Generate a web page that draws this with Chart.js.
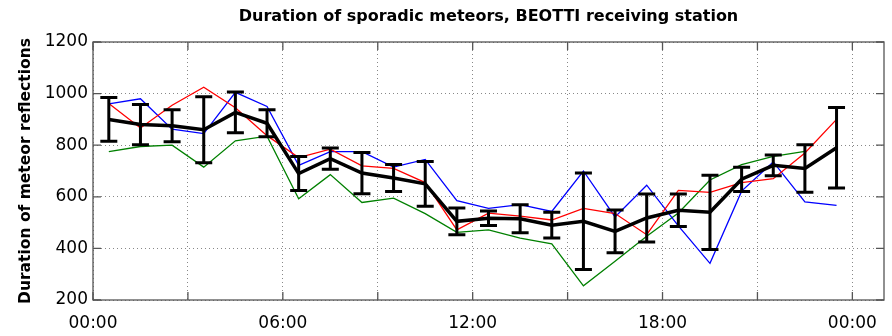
<!DOCTYPE html>
<html>
<head>
<meta charset="utf-8">
<title>Sporadic meteors</title>
<script src="https://cdn.jsdelivr.net/npm/chart.js@4"></script>
<style>
  html, body { margin: 0; padding: 0; background: #fff; }
  #wrap { width: 892px; height: 336px; }
</style>
</head>
<body>
<div id="wrap"><canvas id="meteorChart" width="892" height="336"></canvas></div>
<script>
// Hour of day (bin centres)
const hours = [0.5, 1.5, 2.5, 3.5, 4.5, 5.5, 6.5, 7.5, 8.5, 9.5, 10.5, 11.5,
  12.5, 13.5, 14.5, 15.5, 16.5, 17.5, 18.5, 19.5, 20.5, 21.5, 22.5, 23.5];

// Mean duration with its spread
const meanDuration = [900, 880, 875, 860, 927, 885, 690, 748, 692, 673, 650, 505,
  517, 515, 490, 505, 466, 518, 548, 540, 668, 722, 710, 790];
const meanError = [85, 78, 62, 128, 79, 52, 66, 41, 80, 52, 87, 52,
  28, 54, 50, 187, 83, 93, 63, 144, 47, 40, 92, 156];

// Individual days
const redSeries = [962, 867, 955, 1025, 945, 837, 752, 785, 720, 710, 655, 472,
  537, 525, 510, 555, 535, 453, 625, 617, 655, 670, 770, 900];
const blueSeries = [960, 980, 862, 845, 1005, 950, 722, 775, 775, 715, 745, 585,
  555, 570, 543, 700, 522, 645, 487, 342, 622, 735, 580, 567];
const greenSeries = [775, 795, 800, 715, 817, 835, 592, 686, 578, 595, 535, 462,
  472, 440, 418, 255, 350, 447, 537, 665, 725, 757, 776, null];

// Axis ticks
const tickHours = [0, 3, 6, 9, 12, 15, 18, 21, 24];
const tickLabels = ["00:00", "", "06:00", "", "12:00", "", "18:00", "", "00:00"];

const chartTitle = "Duration of sporadic meteors, BEOTTI receiving station";

const toPoints = (arr) => arr.map((v, i) => ({ x: hours[i], y: v }));

Chart.defaults.font.family = "'DejaVu Sans', 'Liberation Sans', Arial, sans-serif";
Chart.defaults.color = "#000";

// frame, inward tick marks, error bars and the title over the plot box
const framePlugin = {
  id: "frame",
  afterDatasetsDraw(chart) {
    const { ctx, chartArea: a, scales } = chart;
    ctx.save();

    // error bars on the mean
    ctx.strokeStyle = "#000";
    ctx.lineWidth = 3;
    const cap = 8.5;
    meanDuration.forEach((m, i) => {
      const x = scales.x.getPixelForValue(hours[i]);
      const yTop = scales.y.getPixelForValue(m + meanError[i]);
      const yBot = scales.y.getPixelForValue(m - meanError[i]);
      ctx.beginPath();
      ctx.moveTo(x, yTop); ctx.lineTo(x, yBot);
      ctx.moveTo(x - cap, yTop); ctx.lineTo(x + cap, yTop);
      ctx.moveTo(x - cap, yBot); ctx.lineTo(x + cap, yBot);
      ctx.stroke();
    });

    // box
    ctx.strokeStyle = "#555";
    ctx.lineWidth = 1.3;
    ctx.strokeRect(a.left, a.top, a.right - a.left, a.bottom - a.top);

    // inward ticks
    const len = 8;
    ctx.beginPath();
    scales.x.ticks.forEach((t) => {
      const x = scales.x.getPixelForValue(t.value);
      ctx.moveTo(x, a.bottom); ctx.lineTo(x, a.bottom - len);
      ctx.moveTo(x, a.top); ctx.lineTo(x, a.top + len);
    });
    scales.y.ticks.forEach((t) => {
      const y = scales.y.getPixelForValue(t.value);
      ctx.moveTo(a.left, y); ctx.lineTo(a.left + len, y);
      ctx.moveTo(a.right, y); ctx.lineTo(a.right - len, y);
    });
    ctx.stroke();

    // title
    ctx.fillStyle = "#000";
    ctx.font = "bold 16px 'DejaVu Sans', 'Liberation Sans', Arial, sans-serif";
    ctx.textAlign = "center";
    ctx.textBaseline = "middle";
    ctx.fillText(chartTitle, (a.left + a.right) / 2, 17);
    ctx.restore();
  },
};

const lineSet = (data, color, width) => ({
  data: toPoints(data),
  borderColor: color,
  backgroundColor: color,
  borderWidth: width,
  pointRadius: 0,
  tension: 0,
  fill: false,
});

new Chart(document.getElementById("meteorChart"), {
  type: "line",
  data: {
    datasets: [
      lineSet(meanDuration, "#000000", 3.5),
      lineSet(redSeries, "#ff0000", 1.3),
      lineSet(blueSeries, "#0000ff", 1.3),
      lineSet(greenSeries, "#008000", 1.3),
    ],
  },
  options: {
    responsive: false,
    animation: false,
    layout: { padding: { left: 0, right: 8, top: 42, bottom: 0 } },
    plugins: {
      legend: { display: false },
      tooltip: { enabled: false },
    },
    scales: {
      x: {
        type: "linear",
        min: 0,
        max: 25,
        afterBuildTicks: (axis) => {
          axis.ticks = tickHours.map((v) => ({ value: v }));
        },
        afterFit: (scale) => { scale.height = 36; },
        ticks: {
          autoSkip: false,
          maxRotation: 0,
          padding: 13,
          font: { size: 17 },
          callback: (value, index) => tickLabels[index],
        },
        grid: { color: "#888", lineWidth: 1, drawTicks: false },
        border: { display: false, dash: [1, 3] },
      },
      y: {
        min: 200,
        max: 1200,
        afterFit: (scale) => { scale.width = 93; },
        ticks: {
          stepSize: 200,
          padding: 5,
          font: { size: 17 },
          callback: (value) => String(value),
        },
        grid: { color: "#888", lineWidth: 1, drawTicks: false },
        border: { display: false, dash: [1, 3] },
        title: {
          display: true,
          text: "Duration of meteor reflections",
          font: { size: 15.5, weight: "bold" },
          color: "#000",
          padding: { top: 17, bottom: 0 },
        },
      },
    },
  },
  plugins: [framePlugin],
});
</script>
</body>
</html>
